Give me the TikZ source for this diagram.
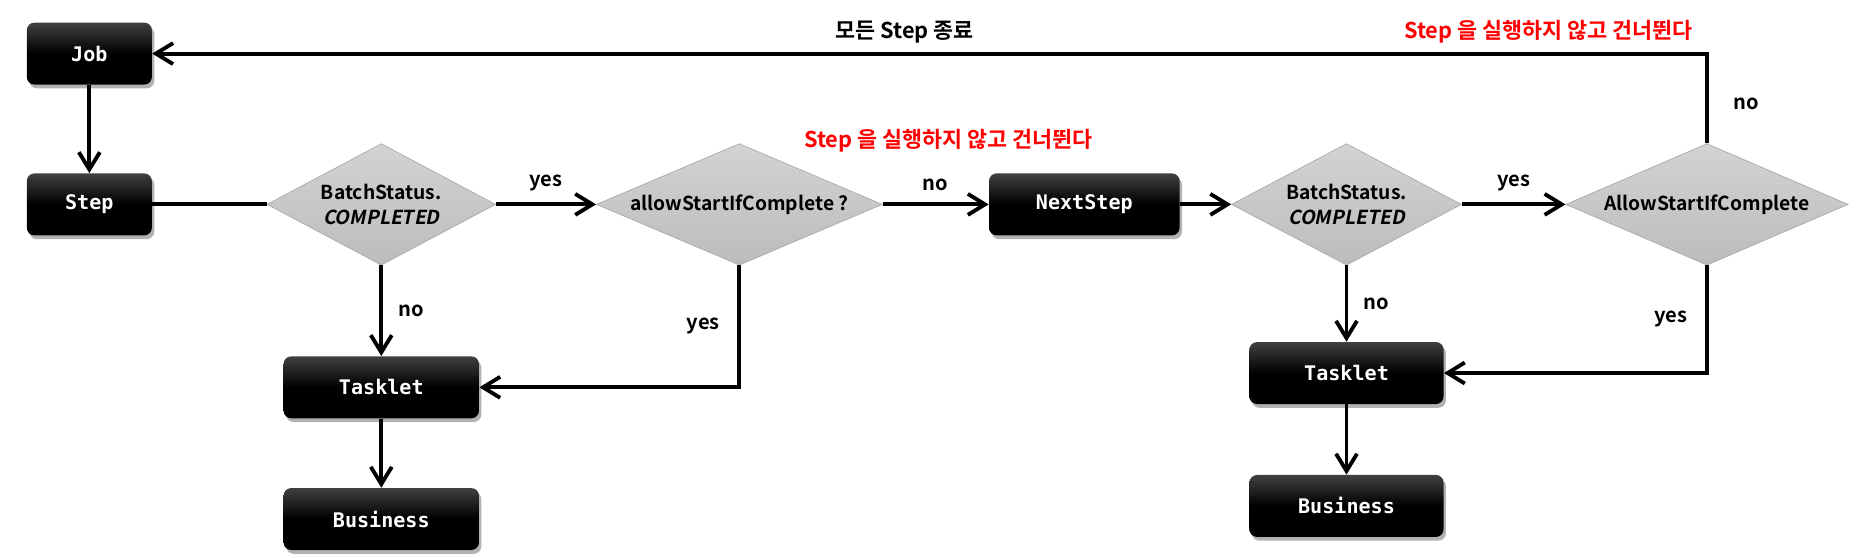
\documentclass[tikz,border=0pt]{standalone}
\usepackage{fontspec}
\setmainfont{Noto Sans CJK KR}[BoldFont={Noto Sans CJK KR Bold},ItalicFont={Noto Sans CJK KR},ItalicFeatures={FakeSlant=0.2},BoldItalicFont={Noto Sans CJK KR Bold},BoldItalicFeatures={FakeSlant=0.2}]
\setmonofont{DejaVu Sans Mono}
\usepackage{tikz}
\usetikzlibrary{arrows.meta,positioning,shapes.geometric,shadows}
\definecolor{boxtop}{HTML}{404040}
\definecolor{diatop}{HTML}{D3D3D3}
\definecolor{diabot}{HTML}{BCBCBC}
\definecolor{diaedge}{HTML}{A8A8A8}
\definecolor{skipred}{HTML}{FF0000}
\tikzset{
  box/.style={rounded corners=1.6mm,top color=boxtop,bottom color=black,middle color=black,
    minimum height=1.3cm,text=white,font=\ttfamily\bfseries\fontsize{12}{14}\selectfont,
    drop shadow={shadow xshift=0.5mm,shadow yshift=-0.8mm,opacity=0.3,fill=black}},
  decision/.style={diamond,draw=diaedge,thin,top color=diatop,bottom color=diabot,
    minimum height=2.55cm,inner sep=0pt,aspect=2.3,align=center,
    font=\bfseries\fontsize{11.5}{15}\selectfont},
  arrow/.style={-{Straight Barb[length=3.6mm,width=4.4mm]},line width=2.3pt},
  conn/.style={line width=2.3pt},
  lbl/.style={font=\bfseries\fontsize{12}{14}\selectfont,inner sep=2pt},
  skip/.style={font=\bfseries\fontsize{13}{15}\selectfont,text=skipred,inner sep=2pt}
}
\begin{document}
\begin{tikzpicture}
  \useasboundingbox (0,0) rectangle (39.2,-11.7);
  % first step
  \node[box,minimum width=2.625cm] (job) at (1.875,-1.125) {Job};
  \node[box,minimum width=2.625cm,below=1.85cm of job] (step) {Step};
  \node[decision,minimum width=4.8cm,right=2.4cm of step] (check1) {BatchStatus.\\\textit{COMPLETED}};
  \node[decision,minimum width=6.0cm,right=2.1cm of check1] (allow1) {allowStartIfComplete ?};
  \node[box,minimum width=4.1cm,below=1.9cm of check1] (task1) {Tasklet};
  \node[box,minimum width=4.1cm,below=1.45cm of task1] (biz1) {Business};
  % next step
  \node[box,minimum width=4.0cm,right=2.225cm of allow1] (next) {NextStep};
  \node[decision,minimum width=4.825cm,right=1.075cm of next] (check2) {BatchStatus.\\\textit{COMPLETED}};
  \node[decision,minimum width=5.925cm,right=2.175cm of check2] (allow2) {AllowStartIfComplete};
  \node[box,minimum width=4.075cm,below=1.6cm of check2] (task2) {Tasklet};
  \node[box,minimum width=4.075cm,below=1.475cm of task2] (biz2) {Business};

  \draw[arrow] (job) -- (step);
  \draw[conn] (step) -- (check1);
  \draw[arrow] (check1) -- node[lbl,above=5pt] {yes} (allow1);
  \draw[arrow] (check1) -- node[lbl,right=0.25cm] {no} (task1);
  \draw[arrow] (allow1.south) |- node[lbl,pos=0.25,left=0.3cm] {yes} (task1);
  \draw[arrow] (allow1) -- node[lbl,above=5pt] {no}
    node[skip,pos=0.62,above=28pt] {Step 을 실행하지 않고 건너뛴다} (next);
  \draw[arrow] (task1) -- (biz1);
  \draw[arrow] (next) -- (check2);
  \draw[arrow] (check2) -- node[lbl,above=5pt] {yes} (allow2);
  \draw[arrow] (check2) -- node[lbl,right=0.25cm] {no} (task2);
  \draw[arrow] (allow2.south) |- node[lbl,pos=0.25,left=0.3cm] {yes} (task2);
  \draw[arrow] (task2) -- (biz2);
  \draw[arrow] (allow2.north) |- node[lbl,pos=0.22,right=0.45cm] {no}
    node[lbl,font=\bfseries\fontsize{13}{15}\selectfont,pos=0.758,above=3pt] {모든 Step 종료}
    node[skip,pos=0.551,above=3pt] {Step 을 실행하지 않고 건너뛴다} (job);
\end{tikzpicture}
\end{document}
